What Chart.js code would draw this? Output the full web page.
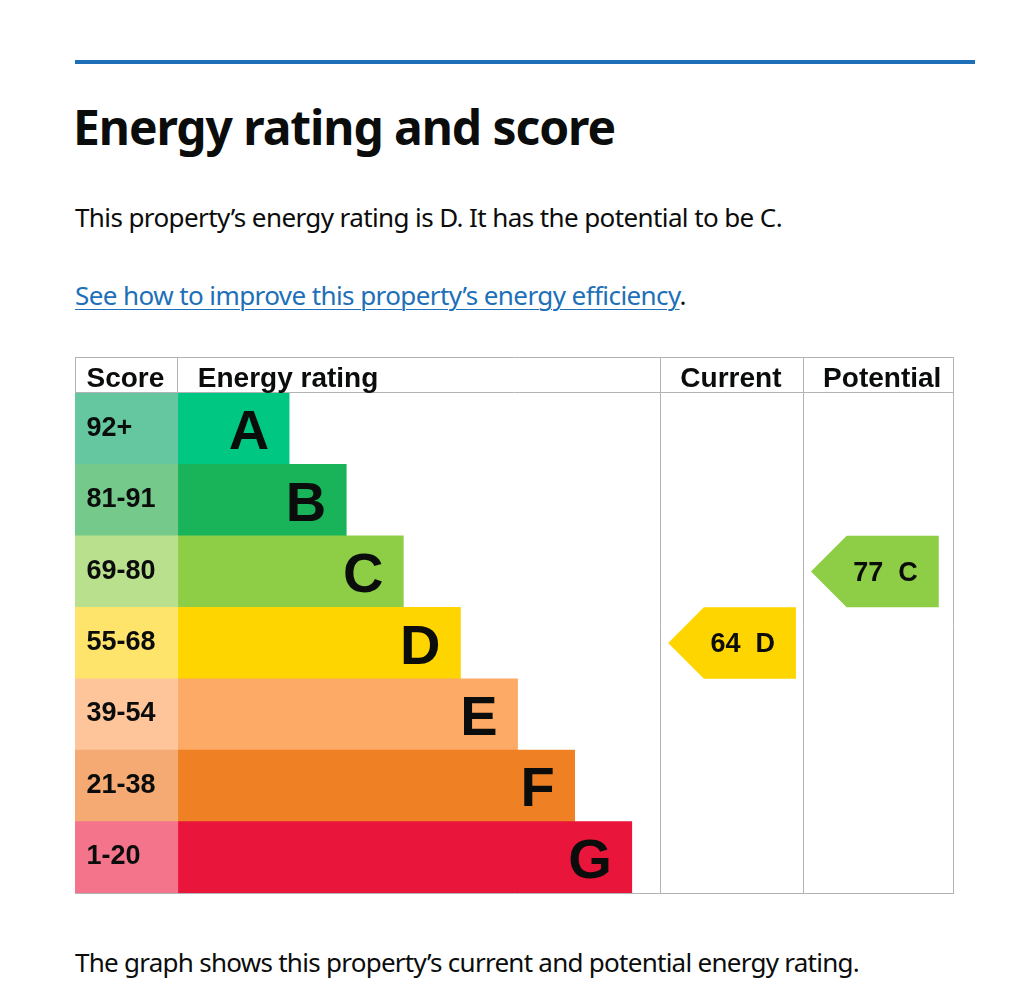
<!DOCTYPE html>
<html lang="en">
<head>
<meta charset="utf-8">
<title>Energy rating and score</title>
<script src="https://cdn.jsdelivr.net/npm/chart.js@4.4.1/dist/chart.umd.min.js"></script>
<style>
  html, body { margin: 0; padding: 0; background: #fff; }
  body { width: 1024px; height: 985px; position: relative; overflow: hidden; font-family: "Noto Sans", Lato, sans-serif; color: #0b0c0c; }
  .rule { position: absolute; left: 75px; top: 60px; width: 900px; height: 4px; background: #1d70b8; }
  .txt { position: absolute; left: 75px; margin: 0; white-space: nowrap; line-height: 1.2; }
  h1.txt { font-size: 48px; font-weight: 700; top: 97.6px; left: 73px; }
  .body { font-size: 26px; font-weight: 400; }
  #intro { top: 201.6px; }
  #more { top: 280px; }
  #note { top: 947px; }
  a { color: #1d70b8; text-decoration: underline; text-decoration-thickness: 1px; text-underline-offset: 3.5px; }
  #chartBox { position: absolute; left: 75px; top: 357px; width: 879px; height: 538px; }
</style>
</head>
<body>
<div class="rule"></div>
<h1 class="txt" data-w="542">Energy rating and score</h1>
<p class="txt body" id="intro" data-w="707">This property’s energy rating is D. It has the potential to be C.</p>
<p class="txt body" id="more" data-w="611"><a href="#">See how to improve this property’s energy efficiency</a>.</p>
<div id="chartBox"><canvas id="epcChart"></canvas></div>
<p class="txt body" id="note" data-w="784">The graph shows this property’s current and potential energy rating.</p>

<script>
const bands = ['A', 'B', 'C', 'D', 'E', 'F', 'G'];
const scoreRanges = ['92+', '81-91', '69-80', '55-68', '39-54', '21-38', '1-20'];
// bar lengths in graph units (score column is 72 wide, rows are 50 high)
const barLengths = [78, 118, 158, 198, 238, 278, 318];
const bandColours = ['#00c781', '#19b459', '#8dce46', '#ffd500', '#fcaa65', '#ef8023', '#e9153b'];
const scoreColours = ['#64c7a0', '#75c98a', '#b9e08d', '#ffe46b', '#fec59a', '#f4aa72', '#f3748b'];
const headers = ['Score', 'Energy rating', 'Current', 'Potential'];
const currentScore = 64;
const currentBand = 'D';
const potentialScore = 77;
const potentialBand = 'C';

// column edges, graph units
const COLS = [[-72, 0], [0, 338], [338, 438], [438, 543]];
const LINE = '#b1b4b6';
const INK = '#0b0c0c';
const FONT = '"Liberation Sans", Arial, sans-serif';

function drawArrow(chart, col, band, score) {
  const { ctx, scales: { x, y } } = chart;
  const i = bands.indexOf(band);
  const cy = y.getPixelForValue(i);
  const half = (y.getPixelForValue(1) - y.getPixelForValue(0)) / 2;
  const left = x.getPixelForValue(col[0] + 5.5);
  const right = x.getPixelForValue(col[0] + 95);
  ctx.fillStyle = bandColours[i];
  ctx.beginPath();
  ctx.moveTo(left, cy);
  ctx.lineTo(left + half, cy - half);
  ctx.lineTo(right, cy - half);
  ctx.lineTo(right, cy + half);
  ctx.lineTo(left + half, cy + half);
  ctx.closePath();
  ctx.fill();
  ctx.fillStyle = INK;
  ctx.font = 'bold 27px ' + FONT;
  ctx.textAlign = 'right';
  ctx.textBaseline = 'alphabetic';
  ctx.fillText(`${score}  ${band}`, right - 21, cy + 9.3);
}

const epcPlugin = {
  id: 'epc',
  beforeDatasetsDraw(chart) {
    const { ctx, chartArea, scales: { x } } = chart;
    const edge = v => Math.floor(x.getPixelForValue(v)) + 0.5;
    ctx.save();
    ctx.strokeStyle = LINE;
    ctx.lineWidth = 1;
    ctx.beginPath();
    const xs = [edge(COLS[0][0]), ...COLS.map(c => edge(c[1]))];
    xs.forEach(px => { ctx.moveTo(px, 0); ctx.lineTo(px, chartArea.bottom + 1); });
    [0.5, chartArea.top - 0.5, chartArea.bottom + 0.5].forEach(py => {
      ctx.moveTo(xs[0] - 0.5, py);
      ctx.lineTo(xs[xs.length - 1] + 0.5, py);
    });
    ctx.stroke();
    ctx.restore();
  },
  afterDatasetsDraw(chart) {
    const { ctx, chartArea, scales: { x, y } } = chart;
    ctx.save();
    ctx.fillStyle = INK;
    ctx.textBaseline = 'alphabetic';

    // header row
    ctx.font = 'bold 28px ' + FONT;
    ctx.textAlign = 'left';
    headers.forEach((h, k) => {
      const pad = k === 0 ? 11.5 : 20;
      ctx.fillText(h, x.getPixelForValue(COLS[k][0]) + pad, chartArea.top - 6);
    });

    // score ranges
    ctx.font = 'bold 27px ' + FONT;
    scoreRanges.forEach((s, i) => {
      ctx.fillText(s, x.getPixelForValue(COLS[0][0]) + 11.5, y.getPixelForValue(i) + 7);
    });

    // band letters
    ctx.font = 'bold 56px ' + FONT;
    ctx.textAlign = 'right';
    bands.forEach((b, i) => {
      ctx.fillText(b, x.getPixelForValue(barLengths[i]) - 20, y.getPixelForValue(i) + 20.5);
    });
    ctx.restore();

    drawArrow(chart, COLS[2], currentBand, currentScore);
    drawArrow(chart, COLS[3], potentialBand, potentialScore);
  }
};

function fitText() {
  document.querySelectorAll('[data-w]').forEach(el => {
    el.style.letterSpacing = '0px';
    const w = el.getBoundingClientRect().width;
    const n = el.textContent.length;
    el.style.letterSpacing = ((+el.dataset.w - w) / n).toFixed(3) + 'px';
  });
}

function init() {
  fitText();
  new Chart(document.getElementById('epcChart'), {
    type: 'bar',
    data: {
      labels: bands,
      datasets: [
        { label: 'Score', data: bands.map(() => COLS[0]), backgroundColor: scoreColours, grouped: false },
        { label: 'Energy rating', data: barLengths, backgroundColor: bandColours, grouped: false }
      ]
    },
    options: {
      indexAxis: 'y',
      responsive: true,
      maintainAspectRatio: false,
      animation: false,
      layout: { padding: { top: 36, right: 1, bottom: 2, left: 0 } },
      datasets: { bar: { barPercentage: 1, categoryPercentage: 1, borderWidth: 0 } },
      plugins: { legend: { display: false }, tooltip: { enabled: false } },
      scales: {
        x: { type: 'linear', min: COLS[0][0], max: COLS[3][1], display: false },
        y: { type: 'category', display: false, grid: { display: false } }
      }
    },
    plugins: [epcPlugin]
  });
}

document.fonts.ready.then(init);
</script>
</body>
</html>
